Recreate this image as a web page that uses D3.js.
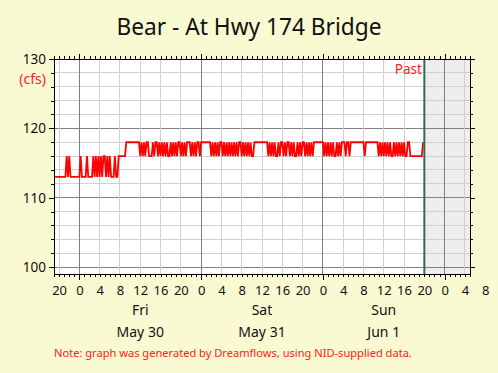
<!DOCTYPE html>
<html>
<head>
<meta charset="utf-8">
<script src="https://cdn.jsdelivr.net/npm/d3@7"></script>
<style>
  body { margin: 0; background: #fafad2; }
  text { font-family: "Noto Sans", sans-serif; }
</style>
</head>
<body>
<svg id="chart" width="498" height="373"></svg>
<script>
// chart data
const chartTitle = "Bear - At Hwy 174 Bridge";
const startTime = new Date(2025, 4, 29, 19, 0);   // first reading
const endTime = new Date(2025, 5, 2, 5, 0);       // right edge of the axis
const pastTime = new Date(2025, 5, 1, 20, 0);     // "Past" marker

// 15 minute readings (cfs)
const flowMay29 = [113,113,113,113, 113,113,113,113, 113,113,116,113, 116,113,113,113, 113,113,113,113];
const flowMay30 = [
  113,116,113,113, 113,113,116,113, 113,113,113,116, 113,116,113,116,
  113,116,113,116, 116,113,116,113, 116,113,113,113, 116,113,113,116,
  116,116,116,116, 116,118,118,118, 118,118,118,118, 118,118,118,118,
  116,118,116,118, 116,118,118,116, 116,116,118,116, 118,118,116,118,
  116,118,116,118, 116,118,116,116, 118,116,118,116, 118,116,118,118,
  116,118,116,118, 116,118,118,118, 116,118,116,118, 116,118,118,116
];
const flowMay31 = [
  118,118,118,118, 118,118,118,118, 116,118,116,118, 116,118,116,118,
  118,116,118,116, 118,116,118,116, 118,116,118,116, 118,116,118,118,
  116,118,116,118, 116,118,116,118, 116,116,118,118, 118,118,118,118,
  118,118,118,118, 118,116,118,116, 118,116,118,116, 116,118,116,118,
  118,116,118,116, 118,118,116,118, 116,118,116,116, 118,116,118,116,
  118,118,116,118, 116,118,116,118, 116,118,118,118, 118,118,118,118
];
const flowJun1 = [
  118,116,118,116, 118,116,118,116, 118,116,116,118, 116,118,116,118,
  118,118,116,118, 118,116,118,118, 118,118,118,118, 118,118,118,118,
  118,116,118,118, 118,118,118,118, 118,118,118,118, 116,118,116,118,
  116,118,116,118, 116,118,116,116, 118,116,118,116, 118,116,118,116,
  118,116,116,118, 118,116,116,116, 116,116,116,116, 116,116,116,118
];

const yTicks = [100, 110, 120, 130];
const dayLabels = [
  { day: "Fri", date: "May 30", t: new Date(2025, 4, 30, 12) },
  { day: "Sat", date: "May 31", t: new Date(2025, 4, 31, 12) },
  { day: "Sun", date: "Jun 1", t: new Date(2025, 5, 1, 12) }
];
const noteText = "Note: graph was generated by Dreamflows, using NID-supplied data.";

const flow = [].concat(flowMay29, flowMay30, flowMay31, flowJun1);
const data = flow.map((v, i) => ({ t: d3.timeMinute.offset(startTime, 15 * i), v: v }));

const pL = 54, pR = 470, pT = 59, pB = 274;
const svg = d3.select("#chart");

const x = d3.scaleTime().domain([startTime, endTime]).range([pL, pR]);
const y = d3.scaleLinear().domain([99, 130]).range([pB, pT]);

// title
svg.append("text")
    .attr("x", 249).attr("y", 35)
    .attr("text-anchor", "middle")
    .attr("font-size", "22.7px")
    .attr("fill", "#111")
    .text(chartTitle);

// plot background + future shading
svg.append("rect")
    .attr("x", pL).attr("y", pT)
    .attr("width", pR - pL).attr("height", pB - pT)
    .attr("fill", "#fff");
svg.append("rect")
    .attr("x", x(pastTime)).attr("y", pT)
    .attr("width", pR - x(pastTime)).attr("height", pB - pT)
    .attr("fill", "#eeeeee");

// grid
const grid = svg.append("g").attr("shape-rendering", "crispEdges");
const hours4 = d3.timeHour.every(4).range(startTime, endTime);
const yMinor = d3.range(100, 130, 2);

grid.selectAll(".hgrid")
    .data(yMinor)
    .enter().append("line")
    .attr("x1", pL).attr("x2", pR)
    .attr("y1", d => y(d)).attr("y2", d => y(d))
    .attr("stroke", d => d % 10 === 0 ? "#808080" : "#d0d0d0");

grid.selectAll(".vgrid")
    .data(hours4)
    .enter().append("line")
    .attr("x1", d => x(d)).attr("x2", d => x(d))
    .attr("y1", pT).attr("y2", pB)
    .attr("stroke", d => d.getHours() === 0 ? "#808080" : "#d0d0d0");

// flow line
const line = d3.line()
    .x(d => x(d.t))
    .y(d => y(d.v));

svg.append("path")
    .datum(data)
    .attr("fill", "none")
    .attr("stroke", "#ff0000")
    .attr("stroke-width", 1.8)
    .attr("d", line);

// past marker
svg.append("line")
    .attr("x1", x(pastTime)).attr("x2", x(pastTime))
    .attr("y1", pT).attr("y2", pB)
    .attr("stroke", "#2e6e5e")
    .attr("stroke-width", 2);

svg.append("text")
    .attr("x", x(pastTime) - 2.5).attr("y", 74)
    .attr("text-anchor", "end")
    .attr("font-size", "13.5px")
    .attr("fill", "#ff2020")
    .text("Past");

// frame
svg.append("rect")
    .attr("x", pL).attr("y", pT)
    .attr("width", pR - pL).attr("height", pB - pT)
    .attr("fill", "none")
    .attr("stroke", "#000")
    .attr("shape-rendering", "crispEdges");

// axes
const hours = d3.timeHour.every(1).range(startTime, d3.timeMinute.offset(endTime, 1));
const midnights = d3.timeDay.every(1).range(startTime, endTime);

function tidy(g) {
    g.select(".domain").remove();
    g.attr("shape-rendering", "crispEdges");
    g.selectAll("text").attr("font-family", "Noto Sans, sans-serif").attr("fill", "#111");
}

svg.append("g").attr("transform", `translate(0,${pB})`)
    .call(d3.axisBottom(x).tickValues(hours).tickSize(3).tickFormat(""))
    .call(tidy);
svg.append("g").attr("transform", `translate(0,${pB})`)
    .call(d3.axisBottom(x).tickValues(midnights).tickSize(6).tickFormat(""))
    .call(tidy);
svg.append("g").attr("transform", `translate(0,${pB})`)
    .call(d3.axisBottom(x).tickValues(hours4.concat([d3.timeHour.offset(hours4[hours4.length - 1], 4)]))
        .tickSize(0).tickPadding(12).tickFormat(d3.timeFormat("%-H")))
    .call(tidy)
    .call(g => g.selectAll("text").attr("font-size", "13px"));

svg.append("g").attr("transform", `translate(0,${pT})`)
    .call(d3.axisTop(x).tickValues(hours).tickSize(3).tickFormat(""))
    .call(tidy);
svg.append("g").attr("transform", `translate(0,${pT})`)
    .call(d3.axisTop(x).tickValues(midnights).tickSize(5).tickFormat(""))
    .call(tidy);

svg.append("g").attr("transform", `translate(${pL},0)`)
    .call(d3.axisLeft(y).tickValues(d3.range(100, 131, 2)).tickSize(3).tickFormat(""))
    .call(tidy);
svg.append("g").attr("transform", `translate(${pL},0)`)
    .call(d3.axisLeft(y).tickValues(yTicks).tickSize(5).tickPadding(3).tickFormat(d3.format("d")))
    .call(tidy)
    .call(g => g.selectAll("text").attr("font-size", "13.5px"));

svg.append("g").attr("transform", `translate(${pR},0)`)
    .call(d3.axisRight(y).tickValues(d3.range(100, 131, 2)).tickSize(3).tickFormat(""))
    .call(tidy);
svg.append("g").attr("transform", `translate(${pR},0)`)
    .call(d3.axisRight(y).tickValues(yTicks).tickSize(5).tickFormat(""))
    .call(tidy);

// units
svg.append("text")
    .attr("x", 46).attr("y", 84)
    .attr("text-anchor", "end")
    .attr("font-size", "14px")
    .attr("fill", "#ff2020")
    .text("(cfs)");

// day labels
const days = svg.append("g").selectAll("g")
    .data(dayLabels)
    .enter().append("g");
days.append("text")
    .attr("x", d => x(d.t)).attr("y", 315)
    .attr("text-anchor", "middle")
    .attr("font-size", "14px")
    .attr("fill", "#111")
    .text(d => d.day);
days.append("text")
    .attr("x", d => x(d.t)).attr("y", 337)
    .attr("text-anchor", "middle")
    .attr("font-size", "14px")
    .attr("fill", "#111")
    .text(d => d.date);

// note
svg.append("text")
    .attr("x", 54).attr("y", 357)
    .attr("font-size", "11.1px")
    .attr("fill", "#ff2020")
    .text(noteText);
</script>
</body>
</html>
